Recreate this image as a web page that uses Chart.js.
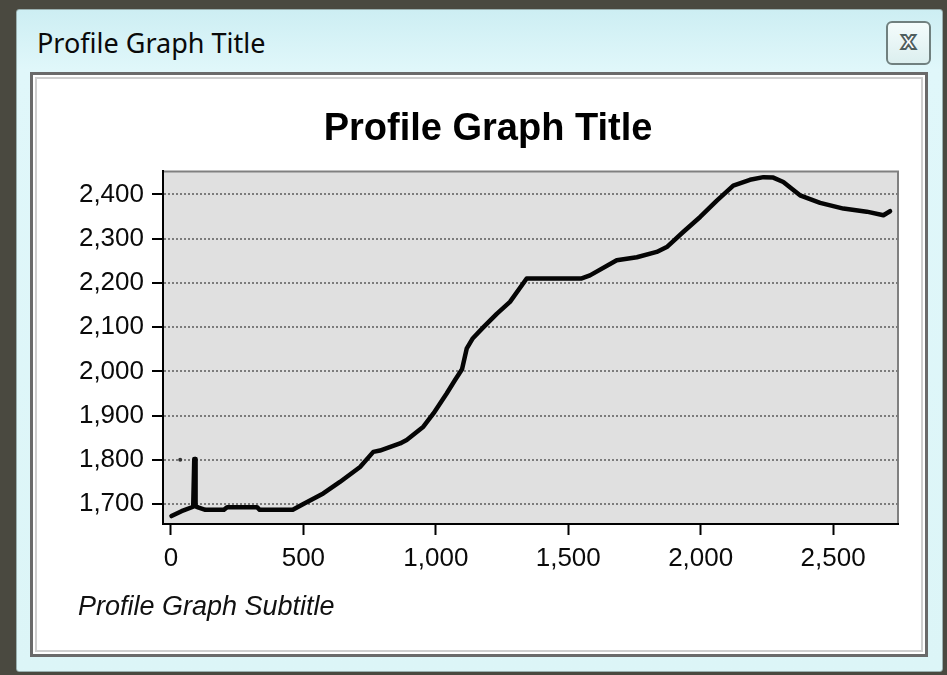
<!DOCTYPE html>
<html>
<head>
<meta charset="utf-8">
<script src="https://cdn.jsdelivr.net/npm/chart.js@4.4.1/dist/chart.umd.min.js"></script>
<style>
html,body{margin:0;padding:0;width:947px;height:675px;overflow:hidden;background:#4a4940;}
#win{position:absolute;left:16px;top:9px;width:927px;height:663px;box-sizing:border-box;border:1px solid #9ab0b0;border-radius:3px;
 background:linear-gradient(180deg,#cdeef3 0%,#e0f7fa 9%,#dcf5f7 100%);}
#wtitle{position:absolute;left:37px;top:25px;font-family:'Noto Sans','Open Sans',sans-serif;font-size:27px;color:#0a0a0a;line-height:36px;white-space:nowrap;}
#close{position:absolute;left:886px;top:21px;width:45px;height:44px;box-sizing:border-box;border:2px solid #70807f;border-radius:6px;
 background:linear-gradient(#f4fcfc,#dcefef);text-align:center;}
#close span{display:block;font-family:'DejaVu Sans',sans-serif;font-weight:bold;font-size:24px;line-height:36px;color:#fff;-webkit-text-stroke:1.8px #4f5f5f;}
#panel{position:absolute;left:30px;top:72px;width:898px;height:585px;box-sizing:border-box;border:3px solid #6a6a6a;background:#fff;
 box-shadow:inset 0 0 0 2px #fff, inset 0 0 0 4px #cfcfcf;}
#c{position:absolute;left:38px;top:78px;}
</style>
</head>
<body>
<div id="win"></div>
<div id="wtitle">Profile Graph Title</div>
<div id="close"><span>x</span></div>
<div id="panel"></div>
<canvas id="c" width="882" height="568"></canvas>
<script>
// ---- data ----
const windowTitle = 'Profile Graph Title';
const chartTitle = 'Profile Graph Title';
const chartSubtitle = 'Profile Graph Subtitle';

const distances = [2, 40, 84, 88, 91, 93, 105, 130, 200, 212, 325, 335, 460, 500, 575, 638, 714, 764, 789, 865, 890, 953, 991, 1041, 1072, 1099, 1117, 1140, 1180, 1230, 1280, 1343, 1551, 1582, 1683, 1759, 1834, 1872, 1934, 1998, 2061, 2123, 2186, 2237, 2274, 2312, 2375, 2451, 2539, 2627, 2690, 2715];
const elevations = [1673, 1684, 1694, 1802, 1802, 1695, 1692, 1687, 1687, 1693, 1693, 1687, 1687, 1700, 1724, 1750, 1784, 1818, 1821, 1837, 1845, 1875, 1905, 1950, 1980, 2005, 2052, 2075, 2100, 2130, 2157, 2210, 2210, 2217, 2251, 2258, 2270, 2281, 2315, 2349, 2386, 2420, 2433, 2439, 2438, 2428, 2398, 2381, 2368, 2361, 2353, 2362];

const strayDist = [35];
const strayElev = [1800];

const xTicks = [0, 500, 1000, 1500, 2000, 2500];
const yTicks = [1700, 1800, 1900, 2000, 2100, 2200, 2300, 2400];
const xRange = [-30, 2745];
const yRange = [1655, 2452];

document.getElementById('wtitle').textContent = windowTitle;
Chart.defaults.font.family = "'Liberation Sans', Arial, sans-serif";

const plotBg = {
  id: 'plotBg',
  beforeDraw(chart) {
    const {ctx, chartArea: a} = chart;
    ctx.save();
    ctx.fillStyle = '#e0e0e0';
    ctx.fillRect(a.left, a.top, a.right - a.left, a.bottom - a.top);
    ctx.strokeStyle = '#808080';
    ctx.lineWidth = 2;
    ctx.beginPath();
    ctx.moveTo(a.left, a.top);
    ctx.lineTo(a.right, a.top);
    ctx.lineTo(a.right, a.bottom);
    ctx.stroke();
    ctx.restore();
  }
};

const fmt = v => Number(v).toLocaleString('en-US');

new Chart(document.getElementById('c'), {
  type: 'line',
  data: {
    datasets: [
      {
        data: distances.map((d, i) => ({x: d, y: elevations[i]})),
        borderColor: '#050505',
        borderWidth: 4.5,
        pointRadius: 0,
        tension: 0,
        fill: false,
        borderJoinStyle: 'round',
        borderCapStyle: 'round'
      },
      {
        type: 'scatter',
        data: strayDist.map((d, i) => ({x: d, y: strayElev[i]})),
        pointRadius: 2,
        backgroundColor: '#333',
        borderWidth: 0
      }
    ]
  },
  options: {
    responsive: false,
    animation: false,
    devicePixelRatio: 1,
    layout: {padding: {left: 40, right: 22, top: 10, bottom: 22}},
    plugins: {
      legend: {display: false},
      tooltip: {enabled: false},
      title: {
        display: true, text: chartTitle, color: '#000',
        font: {size: 38, weight: 'bold', lineHeight: 1.2},
        padding: {top: 19.2, bottom: 18.6}
      },
      subtitle: {
        display: true, text: chartSubtitle, position: 'bottom', align: 'start', color: '#111',
        font: {size: 27, style: 'italic', lineHeight: 1.2},
        padding: 0
      }
    },
    scales: {
      x: {
        type: 'linear', min: xRange[0], max: xRange[1],
        afterBuildTicks: s => { s.ticks = xTicks.map(v => ({value: v})); },
        afterFit: s => { s.height = 67.6; },
        grid: {drawOnChartArea: false, drawTicks: true, tickLength: 11, tickColor: '#000', tickWidth: 2},
        border: {display: true, color: '#000', width: 2},
        ticks: {padding: 8, color: '#0a0a0a', font: {size: 26}, maxRotation: 0, autoSkip: false, callback: v => fmt(v)}
      },
      y: {
        type: 'linear', min: yRange[0], max: yRange[1],
        afterBuildTicks: s => { s.ticks = yTicks.map(v => ({value: v})); },
        afterFit: s => { s.width = 85; },
        grid: {drawOnChartArea: true, color: '#7c7c7c', lineWidth: 2, tickLength: 11, tickColor: '#000', tickWidth: 2, tickBorderDash: []},
        border: {display: true, color: '#000', width: 2, dash: [2, 2]},
        ticks: {padding: 8, color: '#0a0a0a', font: {size: 26}, autoSkip: false, callback: v => fmt(v)}
      }
    }
  },
  plugins: [plotBg]
});
</script>
</body>
</html>
